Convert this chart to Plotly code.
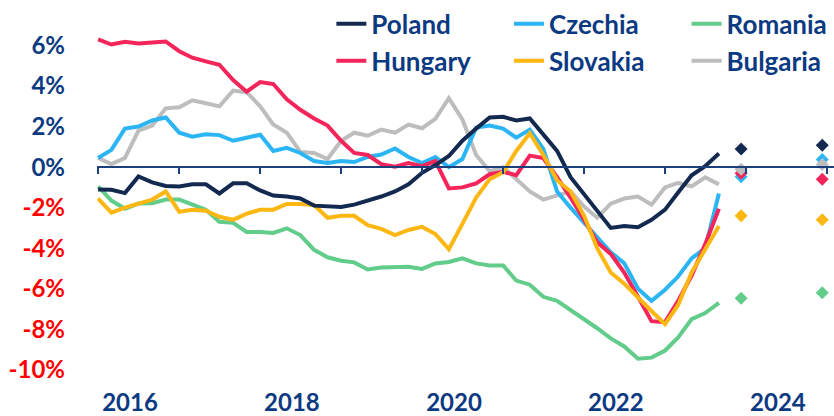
import pandas as pd
import plotly.graph_objects as go

# ---- data (current account balance, % of GDP, bi-monthly readings) ----
dates = pd.date_range("2016-01-01", "2023-09-01", freq="2MS")

poland = [-1.1, -1.12, -1.28, -0.46, -0.75, -0.93, -0.95, -0.85, -0.85, -1.3,
          -0.8, -0.8, -1.15, -1.4, -1.45, -1.55, -1.9, -1.95, -1.97, -1.85,
          -1.67, -1.45, -1.2, -0.85, -0.28, 0.1, 0.55, 1.3, 1.9, 2.45,
          2.48, 2.3, 2.4, 1.6, 0.8, -0.5, -1.35, -2.2, -3.0, -2.9,
          -2.97, -2.6, -2.1, -1.25, -0.4, 0.05, 0.67]
czechia = [0.45, 0.85, 1.9, 2.0, 2.3, 2.45, 1.7, 1.5, 1.62, 1.58,
           1.3, 1.45, 1.6, 0.8, 0.95, 0.7, 0.3, 0.2, 0.3, 0.25,
           0.5, 0.62, 0.92, 0.5, 0.2, 0.5, 0.0, 0.4, 1.95, 2.05,
           1.9, 1.45, 1.85, 0.9, -1.2, -2.0, -2.75, -3.5, -4.2, -4.74,
           -6.0, -6.6, -6.05, -5.4, -4.5, -4.0, -1.3]
romania = [-0.95, -1.65, -2.05, -1.8, -1.78, -1.6, -1.6, -1.85, -2.1, -2.7,
           -2.75, -3.2, -3.2, -3.25, -3.02, -3.35, -4.08, -4.45, -4.62, -4.7,
           -5.05, -4.95, -4.95, -4.92, -5.02, -4.75, -4.68, -4.5, -4.75, -4.85,
           -4.85, -5.6, -5.8, -6.4, -6.6, -7.05, -7.55, -7.95, -8.45, -8.85,
           -9.45, -9.4, -9.05, -8.4, -7.5, -7.2, -6.7]
hungary = [6.3, 6.05, 6.18, 6.1, 6.15, 6.2, 5.72, 5.4, 5.22, 5.05,
           4.3, 3.72, 4.2, 4.1, 3.35, 2.83, 2.4, 2.05, 1.3, 0.7,
           0.6, 0.15, 0.02, 0.2, 0.05, 0.3, -1.05, -1.0, -0.8, -0.35,
           -0.23, -0.4, 0.57, 0.45, -0.5, -1.5, -2.6, -3.7, -4.28, -5.2,
           -6.4, -7.6, -7.65, -6.6, -5.35, -3.8, -2.05]
slovakia = [-1.55, -2.25, -2.0, -1.8, -1.6, -1.2, -2.2, -2.1, -2.15, -2.45,
            -2.6, -2.3, -2.1, -2.1, -1.82, -1.82, -1.87, -2.5, -2.4, -2.4,
            -2.86, -3.05, -3.35, -3.1, -2.95, -3.3, -4.05, -2.8, -1.5, -0.6,
            -0.25, 0.8, 1.67, 0.6, -0.65, -1.2, -2.4, -4.0, -5.2, -5.75,
            -6.4, -7.1, -7.75, -6.8, -5.2, -4.1, -2.9]
bulgaria = [0.45, 0.15, 0.45, 1.8, 2.05, 2.9, 2.95, 3.3, 3.15, 3.0,
            3.78, 3.7, 3.0, 2.1, 1.7, 0.75, 0.7, 0.4, 1.3, 1.7,
            1.55, 1.85, 1.7, 2.1, 1.92, 2.38, 3.4, 2.35, 0.6, -0.2,
            0.0, -0.6, -1.2, -1.6, -1.4, -1.2, -1.95, -2.5, -1.8, -1.55,
            -1.45, -1.85, -1.0, -0.78, -0.95, -0.5, -0.85]

forecast_dates = ["2023-12-10", "2024-12-10"]
fc_poland = [0.9, 1.08]
fc_czechia = [-0.48, 0.38]
fc_romania = [-6.47, -6.2]
fc_hungary = [-0.3, -0.6]
fc_slovakia = [-2.4, -2.6]
fc_bulgaria = [-0.1, 0.13]

year_ticks = [f"{y}-01-01" for y in range(2016, 2026)]
year_labels = [2016, 2018, 2020, 2022, 2024]
y_ticks = [-10, -8, -6, -4, -2, 0, 2, 4, 6]

# ---- style ----
BLUE = "#0b3a82"
RED = "#ff0000"
FONT = "Lato"
colors = {
    "Poland": "#13294f",
    "Czechia": "#2bb5f5",
    "Romania": "#62cc8b",
    "Hungary": "#f4255a",
    "Slovakia": "#fcb712",
    "Bulgaria": "#bdbdbd",
}

series = {
    "Poland": (poland, fc_poland, "legend", 1),
    "Hungary": (hungary, fc_hungary, "legend", 2),
    "Czechia": (czechia, fc_czechia, "legend2", 1),
    "Slovakia": (slovakia, fc_slovakia, "legend2", 2),
    "Romania": (romania, fc_romania, "legend3", 1),
    "Bulgaria": (bulgaria, fc_bulgaria, "legend3", 2),
}
draw_order = ["Bulgaria", "Romania", "Czechia", "Hungary", "Slovakia", "Poland"]

fig = go.Figure()
for name in draw_order:
    vals, _, leg, rank = series[name]
    fig.add_trace(go.Scatter(
        x=dates, y=vals, mode="lines", name=name,
        line=dict(color=colors[name], width=4),
        legend=leg, legendrank=rank,
    ))

for name in ["Romania", "Slovakia", "Czechia", "Hungary", "Bulgaria", "Poland"]:
    fc = series[name][1]
    fig.add_trace(go.Scatter(
        x=forecast_dates, y=fc, mode="markers", showlegend=False,
        marker=dict(symbol="diamond", size=10, color=colors[name]),
        hoverinfo="skip",
    ))

# invisible trace to carry the zero-line axis
fig.add_trace(go.Scatter(x=[dates[0]], y=[0], xaxis="x2", mode="markers",
                         marker=dict(opacity=0), showlegend=False, hoverinfo="skip"))

y_lo, y_hi = -10.8, 8
x_range = ["2015-12-27", "2025-02-01"]

def ylab(v):
    c = RED if v < 0 else BLUE
    return f"<span style='color:{c}'>{v}%</span>"

label_dates = [f"{y}-05-24" for y in year_labels]

tick_font = dict(family=FONT, size=24, color=BLUE, weight="bold")
leg_common = dict(yanchor="top", xanchor="left", y=1.012,
                  font=dict(family=FONT, size=26, color=BLUE, weight="bold"),
                  bgcolor="rgba(0,0,0,0)", borderwidth=0)

fig.update_layout(
    width=834, height=416,
    margin=dict(l=97, r=0, t=5, b=30, autoexpand=False),
    paper_bgcolor="white", plot_bgcolor="white",
    font=dict(family=FONT, size=24, color=BLUE, weight="bold"),
    xaxis=dict(type="date", range=x_range, showgrid=False, zeroline=False,
               showline=False, ticks="", tickvals=label_dates, automargin=False,
               ticktext=[str(y) for y in year_labels], tickfont=tick_font),
    xaxis2=dict(type="date", range=x_range, overlaying="x", anchor="free",
                position=(0 - y_lo) / (y_hi - y_lo), side="bottom",
                showgrid=False, zeroline=False, showline=True, automargin=False,
                linecolor="#1d3f7c", linewidth=2,
                ticks="outside", ticklen=6, tickwidth=2, tickcolor="#1d3f7c",
                tickvals=year_ticks, showticklabels=False),
    yaxis=dict(range=[y_lo, y_hi], showgrid=False, zeroline=False, showline=False,
               ticks="", tickvals=y_ticks, ticktext=[ylab(v) for v in y_ticks],
               ticklabelstandoff=31, tickfont=tick_font, automargin=False),
    legend=dict(x=0.318, **leg_common),
    legend2=dict(x=0.559, **leg_common),
    legend3=dict(x=0.8, **leg_common),
    showlegend=True,
)

fig.write_html("out.html", config={"displayModeBar": False},
               post_script="document.body.style.margin='0';")
